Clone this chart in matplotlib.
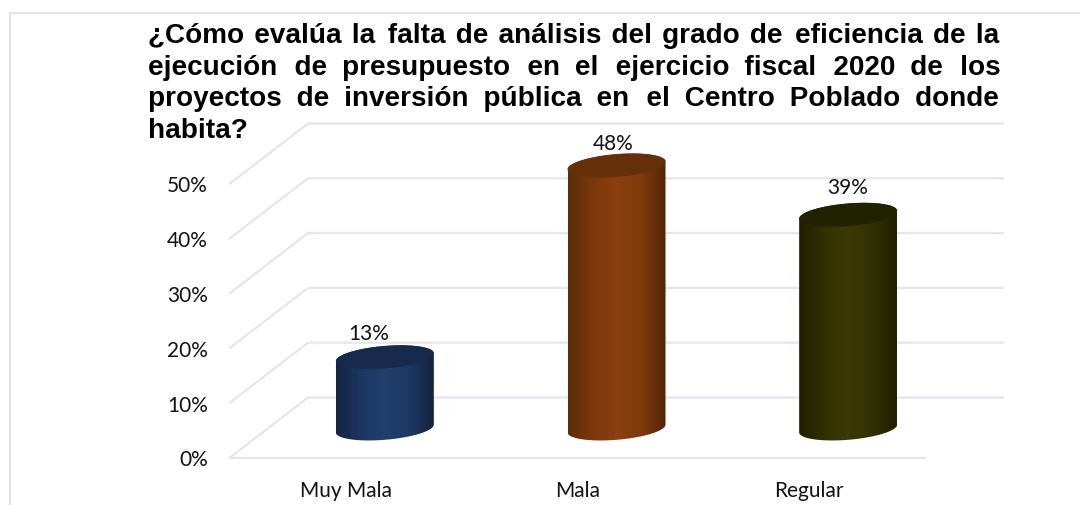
import numpy as np
import matplotlib
matplotlib.use("Agg")
import matplotlib.pyplot as plt
from matplotlib.path import Path
from matplotlib.patches import PathPatch
from matplotlib.transforms import Affine2D, IdentityTransform
from matplotlib.colors import to_rgb
from matplotlib.lines import Line2D

categories = ["Muy Mala", "Mala", "Regular"]
values = [13, 48, 39]
value_labels = ["13%", "48%", "39%"]
y_ticks = [0, 10, 20, 30, 40, 50]
y_tick_labels = ["0%", "10%", "20%", "30%", "40%", "50%"]
title_lines = [
    "¿Cómo evalúa la falta de análisis del grado de eficiencia de la",
    "ejecución de presupuesto en el ejercicio fiscal 2020 de los",
    "proyectos de inversión pública en el Centro Poblado donde",
    "habita?",
]

side_colors = [
    ["#13233f", "#1d3763", "#223f6d", "#1e3864", "#13233f"],
    ["#5c2c08", "#7c390d", "#8c3f10", "#7f3a0d", "#532505"],
    ["#1e1f00", "#313003", "#3b3a05", "#323103", "#1f2000"],
]
top_colors = ["#172a4e", "#652f08", "#212200"]
label_shift = [(-16, 24), (-3, 22), (-1, 28)]

W, H = 1080, 506
GRID = "#e2e5ed"
FS = 15
fig = plt.figure(figsize=(W / 100, H / 100), dpi=100, facecolor="white")
ax = fig.add_axes([230 / W, (H - 458.5) / H, 695 / W, 274 / H])
ax.set_xlim(-0.5, 2.5)
ax.set_ylim(0, 50)
for s in ax.spines.values():
    s.set_visible(False)
ax.patch.set_visible(False)
ax.set_xticks(range(3), categories, fontsize=FS, family="Lato", color="#111111")
ax.set_yticks(y_ticks, y_tick_labels, fontsize=FS, family="Lato", color="#111111")
ax.tick_params(length=0)
ax.tick_params(axis="y", pad=16)
ax.tick_params(axis="x", pad=16)

# chart frame: left and top edges only
fig.add_artist(Line2D([10, 10, W], [0, H - 14, H - 14], color="#e1e4ee", lw=1.4,
                      transform=IdentityTransform(), solid_joinstyle="miter"))

DX, DY = 78, 60
back = ax.transData + Affine2D().translate(DX, DY)
mid = ax.transData + Affine2D().translate(DX / 2, 29)
lw = 1.5
for t in y_ticks:
    p0 = ax.transData.transform((-0.5, t))
    p1 = back.transform((-0.5, t))
    p2 = back.transform((2.5, t))
    ax.add_line(Line2D([p0[0], p1[0], p2[0]], [p0[1], p1[1], p2[1]], color=GRID, lw=lw,
                       transform=IdentityTransform(), zorder=1, clip_on=False,
                       solid_joinstyle="miter"))
p0 = ax.transData.transform((-0.5, 0))
p1 = ax.transData.transform((2.5, 0))
ax.add_line(Line2D([p0[0], p1[0]], [p0[1], p1[1]], color=GRID, lw=lw,
                   transform=IdentityTransform(), zorder=1, clip_on=False))

A, B, S = 49.0, 11.3, 0.08
t_lo = np.linspace(np.pi, 2 * np.pi, 60)
t_hi = np.linspace(0, np.pi, 60)


def arc(c, ts):
    return np.column_stack([c[0] + A * np.cos(ts), c[1] + B * np.sin(ts) + S * A * np.cos(ts)])


half_w = A / (ax.transData.transform((1, 0))[0] - ax.transData.transform((0, 0))[0])
for i, (v, cols, top) in enumerate(zip(values, side_colors, top_colors)):
    cb = mid.transform((i, 0))
    ct = mid.transform((i, v))
    body = np.vstack([arc(cb, t_lo), arc(ct, t_hi)])
    body_path = Path(np.vstack([body, body[0]]), closed=True)
    stops = np.array([to_rgb(c) for c in cols])
    xs = np.linspace(0, 1, 200)
    pos = np.linspace(0, 1, len(cols))
    grad = np.stack([np.interp(xs, pos, stops[:, k]) for k in range(3)], axis=-1)[None, :, :]
    im = ax.imshow(grad, extent=(i - half_w, i + half_w, -4, v + 4), aspect="auto",
                   transform=mid, zorder=3, interpolation="bilinear")
    im.set_clip_box(fig.bbox)
    im.set_clip_path(body_path, IdentityTransform())
    lid = np.vstack([arc(ct, t_lo), arc(ct, t_hi)])
    ax.add_patch(PathPatch(Path(lid, closed=False), fc=top, ec="none",
                           transform=IdentityTransform(), zorder=4, clip_on=False))
    dx, dy = label_shift[i]
    ax.text(i, v, value_labels[i], transform=mid + Affine2D().translate(dx, dy), ha="center",
            va="center", fontsize=FS, family="Lato", color="#111111", zorder=5, clip_on=False)
ax.set_xlim(-0.5, 2.5)
ax.set_ylim(0, 50)

# justified title, one real text per line stretched with hair spaces
TX0, TX1 = 148, 1000
baselines = [43, 75, 106, 138]
renderer = fig.canvas.get_renderer()
HAIR = "\u200a"
kw = dict(fontsize=20.1, fontweight="bold", family=["Liberation Sans", "DejaVu Sans"], color="black")


def width(s):
    t = fig.text(0, 0, s, **kw)
    w = t.get_window_extent(renderer).width
    t.remove()
    return w


unit = (width("a" + HAIR * 20 + "a") - width("aa")) / 20
for k, (line, by) in enumerate(zip(title_lines, baselines)):
    words = line.split(" ")
    out = line
    if k < 3:
        gaps = len(words) - 1
        n = max(0, int(round((TX1 - TX0 - width(line)) / unit)))
        counts = np.diff(np.round(np.linspace(0, n, gaps + 1))).astype(int)
        out = words[0]
        for c, w in zip(counts, words[1:]):
            out += " " + HAIR * c + w
    fig.text(TX0 / W, (H - by) / H, out, ha="left", va="baseline", zorder=6, **kw)

fig.savefig("out.png", dpi=100, facecolor="white")
